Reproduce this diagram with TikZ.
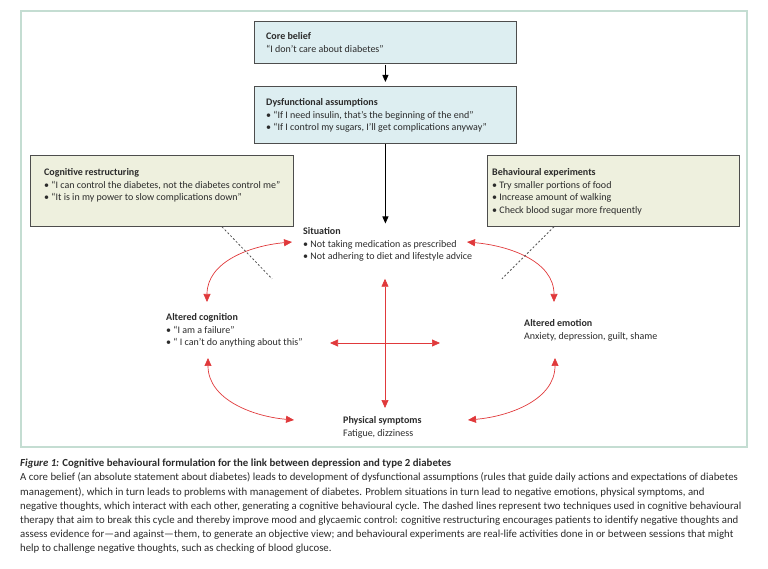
\documentclass[tikz,border=0pt]{standalone}
\usepackage{fontspec}
\setmainfont{Carlito}
\usetikzlibrary{arrows.meta, calc}
\definecolor{framegreen}{HTML}{C4DDD2}
\definecolor{bluebox}{HTML}{DDEEF1}
\definecolor{greenbox}{HTML}{EEF0DE}
\definecolor{boxline}{HTML}{4D4D4D}
\definecolor{cyclered}{HTML}{E0393B}
\definecolor{txt}{HTML}{2B2B2B}
\definecolor{dashgrey}{HTML}{555555}

\begin{document}
\begin{tikzpicture}[x=1pt, y=1pt,
    box/.style={draw=boxline, line width=0.8pt, anchor=north west, inner sep=0pt},
    txtblock/.style={anchor=north west, inner sep=0pt, align=left, text=txt, font=\fontsize{10}{12.8}\selectfont},
    down/.style={-{Triangle[length=7pt, width=6pt]}, line width=0.8pt, black},
    cyc/.style={{Triangle[length=8pt, width=7pt]}-{Triangle[length=8pt, width=7pt]}, cyclered, line width=0.7pt},
    cut/.style={dashgrey, line width=0.8pt, dash pattern=on 2pt off 2pt}]
    \useasboundingbox (0,0) rectangle (768,568);
    \draw[framegreen, line width=1.5pt] (21,121) rectangle (747,557);

    \node[box, fill=bluebox, minimum width=262pt, minimum height=42pt] (core) at (254,547) {};
    \node[box, fill=bluebox, minimum width=262pt, minimum height=57pt] (dysf) at (254,482) {};
    \node[box, fill=greenbox, minimum width=263pt, minimum height=71pt] (restr) at (30,413) {};
    \node[box, fill=greenbox, minimum width=252pt, minimum height=71pt] (exper) at (487,413) {};

    \node[txtblock] (coretxt) at (266,536) {\textbf{Core belief}\\“I don’t care about diabetes”};
    \node[txtblock] (dysftxt) at (266,470) {\textbf{Dysfunctional assumptions}\\• “If I need insulin, that’s the beginning of the end”\\• “If I control my sugars, I’ll get complications anyway”};
    \node[txtblock] (restrtxt) at (44,400) {\textbf{Cognitive restructuring}\\• “I can control the diabetes, not the diabetes control me”\\• “It is in my power to slow complications down”};
    \node[txtblock] (expertxt) at (492,400) {\textbf{Behavioural experiments}\\• Try smaller portions of food\\• Increase amount of walking\\• Check blood sugar more frequently};

    \node[txtblock] (sit) at (303,341) {\textbf{Situation}\\• Not taking medication as prescribed\\• Not adhering to diet and lifestyle advice};
    \node[txtblock] (cog) at (166,255) {\textbf{Altered cognition}\\• “I am a failure”\\• “ I can’t do anything about this”};
    \node[txtblock] (emo) at (524,249) {\textbf{Altered emotion}\\Anxiety, depression, guilt, shame};
    \node[txtblock] (phys) at (343,152) {\textbf{Physical symptoms}\\Fatigue, dizziness};
    \coordinate (hub) at (385,225);

    \draw[down, shorten <=1pt, shorten >=4pt] (core.south) -- (dysf.north);
    \draw[down, shorten >=3.5pt] (dysf.south) -- (dysf.south |- sit.north);

    \draw[cyc] ($(cog.north west)+(41,11)$) to[out=90, in=185] ($(sit.north west)+(-11,-15)$);
    \draw[cyc] ($(sit.north west)+(164,-15)$) to[out=-5, in=90] ($(emo.north west)+(30,17)$);
    \draw[cyc] ($(cog.north west)+(42,-45)$) to[out=-90, in=175] ($(phys.north west)+(-49,-4)$);
    \draw[cyc] ($(emo.north west)+(31,-39)$) to[out=-90, in=5] ($(phys.north west)+(125,-4)$);
    \draw[cyc] (hub |- sit.south) ++(0,-17) -- ($(hub |- phys.north)+(0,8)$);
    \draw[cyc] ($(hub)+(-55,0)$) -- ($(hub)+(55,0)$);

    \draw[cut] ($(restr.south west)+(192,0)$) -- ++(50,-52);
    \draw[cut] ($(exper.south west)+(67,0)$) -- ++(-52,-52);

    \node[txtblock, font=\fontsize{10.8}{14.2}\selectfont] (caption) at (20,109) {\textbf{\textit{Figure 1:} Cognitive behavioural formulation for the link between depression and type 2 diabetes}\\
    A core belief (an absolute statement about diabetes) leads to development of dysfunctional assumptions (rules that guide daily actions and expectations of diabetes\\
    management), which in turn leads to problems with management of diabetes. Problem situations in turn lead to negative emotions, physical symptoms, and\\
    negative thoughts, which interact with each other, generating a cognitive behavioural cycle. The dashed lines represent two techniques used in cognitive behavioural\\
    therapy that aim to break this cycle and thereby improve mood and glycaemic control: cognitive restructuring encourages patients to identify negative thoughts and\\
    assess evidence for—and against—them, to generate an objective view; and behavioural experiments are real-life activities done in or between sessions that might\\
    help to challenge negative thoughts, such as checking of blood glucose.};
\end{tikzpicture}
\end{document}
